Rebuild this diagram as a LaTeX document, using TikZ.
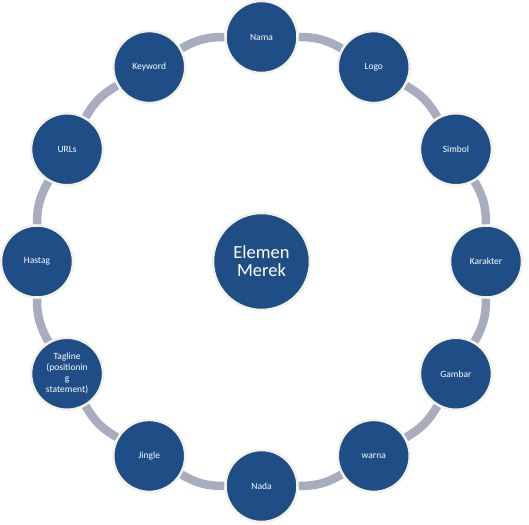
\documentclass[tikz,border=0pt]{standalone}
\usepackage{fontspec}
\setmainfont{Carlito}
\usepackage{tikz}
\usetikzlibrary{shapes}
\definecolor{merekblue}{HTML}{1F4E86}
\definecolor{ringgray}{HTML}{A7ACBE}
\definecolor{rimcream}{HTML}{F4F2E6}

\begin{document}
\begin{tikzpicture}[x=1pt,y=1pt,
  leaf/.style={shape=circle,fill=merekblue,draw=rimcream,line width=2.5pt,minimum size=72pt,inner sep=0pt,align=center,text=white,font=\fontsize{9.5}{11}\selectfont},
  hub/.style={shape=circle,fill=merekblue,draw=rimcream,line width=2.5pt,minimum size=97pt,inner sep=0pt,align=center,text=white,font=\fontsize{18.5}{18}\selectfont},
  ring/.style={-,draw=ringgray,line width=8.5pt,bend left=15}]
\useasboundingbox (-261.5,-262.5) rectangle (267.5,261.5);
\node[leaf] (0) at (0,224.5) {Nama};
\node[leaf] (1) at (112.25,194.42) {Logo};
\node[leaf] (2) at (194.42,112.25) {Simbol};
\node[leaf] (3) at (224.5,0) {Karakter};
\node[leaf] (4) at (194.42,-112.25) {Gambar};
\node[leaf] (5) at (112.25,-194.42) {warna};
\node[leaf] (6) at (0,-224.5) {Nada};
\node[leaf] (7) at (-112.25,-194.42) {Jingle};
\node[leaf] (8) at (-194.42,-112.25) {Tagline\\(positionin\\g\\statement)};
\node[leaf] (9) at (-224.5,0) {Hastag};
\node[leaf] (10) at (-194.42,112.25) {URLs};
\node[leaf] (11) at (-112.25,194.42) {Keyword};
\node[hub] (12) at (0,0) {Elemen\\Merek};

\path [ring] (0) edge (1);
\path [ring] (1) edge (2);
\path [ring] (2) edge (3);
\path [ring] (3) edge (4);
\path [ring] (4) edge (5);
\path [ring] (5) edge (6);
\path [ring] (6) edge (7);
\path [ring] (7) edge (8);
\path [ring] (8) edge (9);
\path [ring] (9) edge (10);
\path [ring] (10) edge (11);
\path [ring] (11) edge (0);
\end{tikzpicture}
\end{document}
